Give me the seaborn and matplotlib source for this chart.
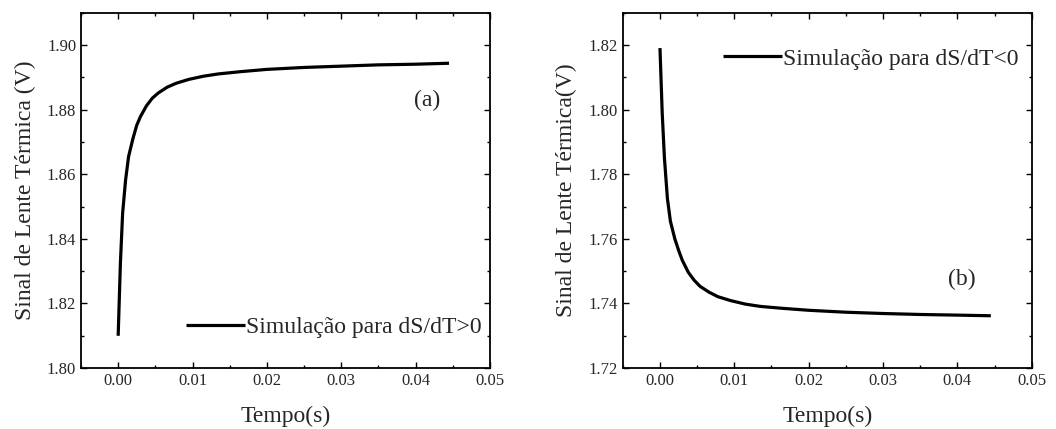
import matplotlib
matplotlib.use('Agg')
import matplotlib.pyplot as plt
from matplotlib.ticker import MultipleLocator, AutoMinorLocator, FormatStrFormatter
import seaborn as sns
import pandas as pd

# values
tempo = [0.0, 0.0003, 0.0006, 0.001, 0.0014, 0.002, 0.0025, 0.003, 0.0038, 0.0046,
         0.0054, 0.0066, 0.0078, 0.0095, 0.0115, 0.0135, 0.0165, 0.02, 0.025, 0.03,
         0.035, 0.04, 0.0445]
sinal_pos = [1.8100, 1.8325, 1.8480, 1.8583, 1.8655, 1.8712, 1.8752, 1.8779, 1.8812, 1.8836,
             1.8852, 1.8870, 1.8882, 1.8894, 1.8904, 1.8911, 1.8918, 1.8925, 1.8931, 1.8935,
             1.8939, 1.8941, 1.8944]
sinal_neg = [1.8191, 1.7990, 1.7850, 1.7725, 1.7655, 1.7600, 1.7565, 1.7534, 1.7497, 1.7472,
             1.7453, 1.7435, 1.7421, 1.7409, 1.7398, 1.7391, 1.7385, 1.7379, 1.7373, 1.7369,
             1.7366, 1.7364, 1.7362]

df = pd.DataFrame({'Tempo': tempo, 'pos': sinal_pos, 'neg': sinal_neg})

sns.set_style('ticks')
plt.rcParams['font.family'] = ['Liberation Serif', 'DejaVu Serif']
plt.rcParams['lines.solid_capstyle'] = 'butt'
plt.rcParams['lines.solid_joinstyle'] = 'round'

fig, axes = plt.subplots(1, 2, figsize=(10.56, 4.29), dpi=100)
plt.subplots_adjust(left=0.0767, right=0.977, top=0.970, bottom=0.142, wspace=0.325)

panels = [
    (axes[0], 'pos', 'Simulação para dS/dT>0', 'Sinal de Lente Térmica (V)',
     (1.80, 1.91), '(a)', (0.0415, 1.883), 'lower right', (1.0, 0.062)),
    (axes[1], 'neg', 'Simulação para dS/dT<0', 'Sinal de Lente Térmica(V)',
     (1.72, 1.83), '(b)', (0.0406, 1.7473), 'upper right', (0.988, 0.924)),
]

for ax, col, lbl, ylabel, ylim, tag, tagpos, loc, anchor in panels:
    sns.lineplot(data=df, x='Tempo', y=col, ax=ax, color='black', linewidth=2.3,
                 label=lbl, sort=False)
    ax.set_xlim(-0.005, 0.05)
    ax.set_ylim(*ylim)
    ax.xaxis.set_major_locator(MultipleLocator(0.01))
    ax.xaxis.set_minor_locator(AutoMinorLocator(2))
    ax.yaxis.set_major_locator(MultipleLocator(0.02))
    ax.yaxis.set_minor_locator(AutoMinorLocator(2))
    ax.xaxis.set_major_formatter(FormatStrFormatter('%.2f'))
    ax.yaxis.set_major_formatter(FormatStrFormatter('%.2f'))
    ax.tick_params(which='both', direction='in', top=True, right=True, labelsize=12,
                   width=1.0, color='black')
    ax.tick_params(which='major', length=4)
    ax.tick_params(which='minor', length=2.5)
    for s in ax.spines.values():
        s.set_linewidth(1.3)
        s.set_color('black')
    ax.set_xlabel('Tempo(s)', fontsize=17, labelpad=12)
    ax.set_ylabel(ylabel, fontsize=17, labelpad=8)
    ax.text(tagpos[0], tagpos[1], tag, fontsize=17, ha='center', va='center')
    ax.legend(loc=loc, bbox_to_anchor=anchor, frameon=False, fontsize=17,
              handlelength=2.5, handletextpad=0.05, borderaxespad=0.0, borderpad=0.35)

fig.savefig('out.png', dpi=100)
